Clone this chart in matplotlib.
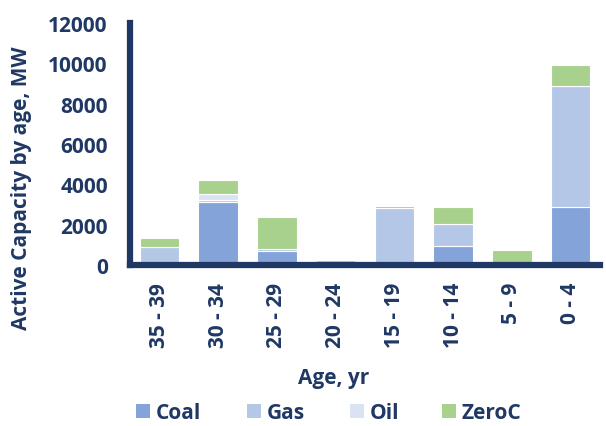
import matplotlib
matplotlib.use("Agg")
import matplotlib.pyplot as plt
import numpy as np
from matplotlib.patches import Patch

# data
age_bins = ["35 - 39", "30 - 34", "25 - 29", "20 - 24", "15 - 19", "10 - 14", "5 - 9", "0 - 4"]
coal = [0, 3110, 710, 0, 0, 940, 0, 2880]
gas = [900, 130, 80, 260, 2810, 1080, 0, 5990]
oil = [0, 270, 0, 0, 0, 0, 0, 0]
zeroc = [450, 700, 1600, 0, 130, 860, 745, 1055]
y_ticks = [0, 2000, 4000, 6000, 8000, 10000, 12000]

NAVY = "#1F3864"
COLORS = {"Coal": "#84A3D9", "Gas": "#B4C7E7", "Oil": "#DAE3F3", "ZeroC": "#A9D18E"}
LEGEND_X = [136, 247, 350, 442]  # left edge of each legend swatch, px

plt.rcParams["font.family"] = ["Open Sans", "DejaVu Sans"]
plt.rcParams["font.weight"] = "bold"

fig = plt.figure(figsize=(6.06, 4.27), dpi=100)
ax = fig.add_axes([130 / 606, 1 - 266 / 427, 470 / 606, 242 / 427])

x = np.arange(len(age_bins))
bottom = np.zeros(len(age_bins))
for name, vals in [("Coal", coal), ("Gas", gas), ("Oil", oil), ("ZeroC", zeroc)]:
    vals = np.array(vals, dtype=float)
    ax.bar(x, vals, width=0.67, bottom=bottom, color=COLORS[name],
           edgecolor="white", linewidth=0.8, zorder=2)
    bottom += vals

ax.set_xlim(-0.5, 7.5)
ax.set_ylim(0, 12000)
ax.set_yticks(y_ticks)
ax.set_yticklabels([str(v) for v in y_ticks])
ax.set_xticks(x)
ax.set_xticklabels(age_bins, rotation=90, va="top")

for side in ["top", "right"]:
    ax.spines[side].set_visible(False)
for side in ["left", "bottom"]:
    ax.spines[side].set_color(NAVY)
    ax.spines[side].set_linewidth(4.5)
    ax.spines[side].set_capstyle("projecting")

ax.tick_params(axis="both", length=0, colors=NAVY, labelsize=15)
ax.tick_params(axis="y", pad=16)
ax.tick_params(axis="x", pad=12)
for lbl in ax.get_xticklabels() + ax.get_yticklabels():
    lbl.set_fontweight("bold")

fig.text(22 / 606, 1 - 188 / 427, "Active Capacity by age, MW", rotation=90,
         ha="center", va="center", fontsize=15, fontweight="bold", color=NAVY)
fig.text(334 / 606, 1 - 379 / 427, "Age, yr", ha="center", va="center",
         fontsize=15, fontweight="bold", color=NAVY)

# one single-entry legend per series so each sits where the reference puts it
for (name, color), lx in zip(COLORS.items(), LEGEND_X):
    leg = fig.legend([Patch(facecolor=color, edgecolor="none")], [name],
                     loc="center left", bbox_to_anchor=(lx / 606, 1 - 414 / 427),
                     frameon=False, borderpad=0, borderaxespad=0,
                     handlelength=0.67, handleheight=0.67, handletextpad=0.28,
                     prop={"size": 15, "weight": "bold"})
    for t in leg.get_texts():
        t.set_color(NAVY)

fig.savefig("out.png", dpi=100)
